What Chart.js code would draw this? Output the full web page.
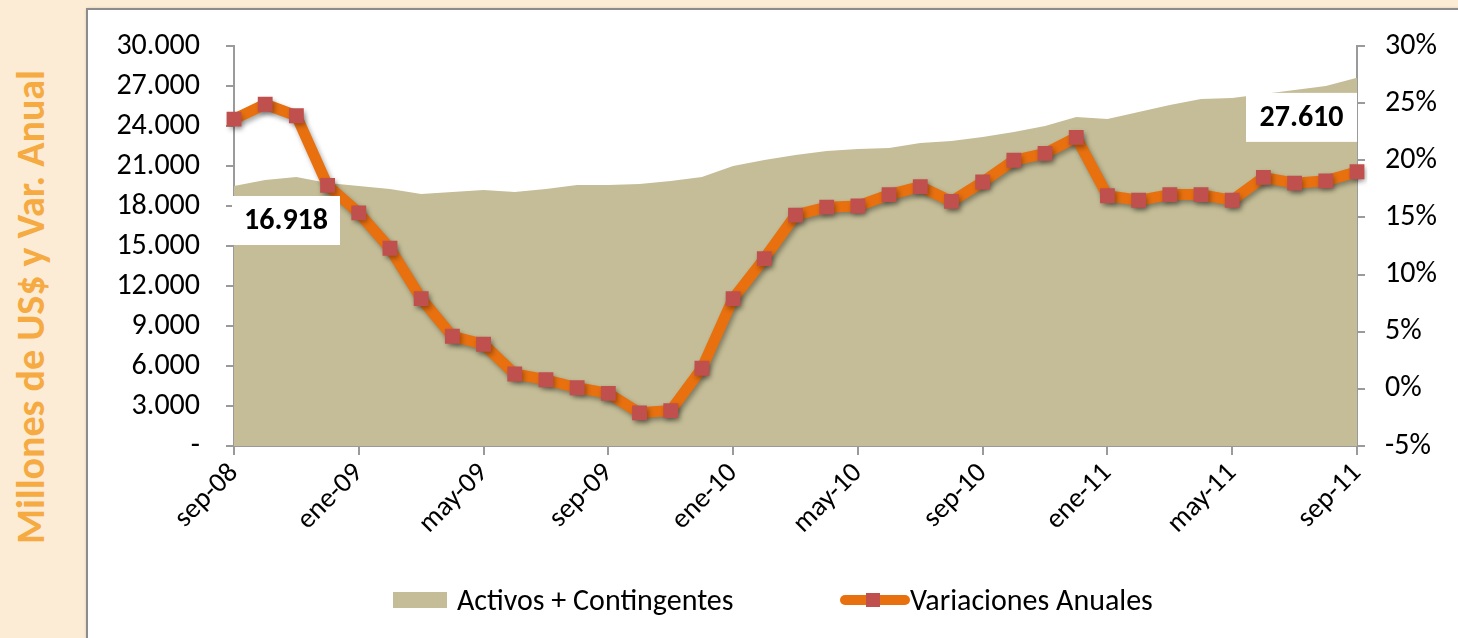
<!DOCTYPE html>
<html><head><meta charset="utf-8">
<script src="https://cdn.jsdelivr.net/npm/chart.js@4.4.0/dist/chart.umd.min.js"></script>
<style>
html,body{margin:0;padding:0;width:1458px;height:638px;overflow:hidden;background:#FDECD5;}
#box{position:absolute;left:86px;top:8px;width:1400px;height:660px;background:#fff;border:2px solid #8c8c8c;box-shadow:1px 1px 3px rgba(0,0,0,0.3);}
#ytitle{position:absolute;left:30px;top:307px;transform:translate(-50%,-50%) rotate(-90deg);white-space:nowrap;font:bold 40px Carlito,Lato,sans-serif;color:#F5AA42;}
canvas{position:absolute;left:0;top:0;}
.lg{position:absolute;font:30px Carlito,Lato,sans-serif;color:#000;line-height:34px;top:583px;white-space:nowrap;}
#sw1{position:absolute;left:393px;top:592px;width:54px;height:16px;background:#C4BD97;}
#sw2{position:absolute;left:840px;top:595px;width:70px;height:10px;background:#E8700F;border-radius:5px;}
#sw2m{position:absolute;left:866px;top:593px;width:14px;height:14px;background:#C0504D;}
</style></head>
<body>
<div id="box"></div>
<div id="ytitle">Millones de US$ y Var. Anual</div>
<canvas id="c" width="1458" height="638"></canvas>
<div id="sw1"></div><div class="lg" style="left:457px">Activos + Contingentes</div>
<div id="sw2"></div><div id="sw2m"></div><div class="lg" style="left:910px">Variaciones Anuales</div>
<script>
const categories = ['sep-08','oct-08','nov-08','dic-08','ene-09','feb-09','mar-09','abr-09','may-09','jun-09','jul-09','ago-09','sep-09','oct-09','nov-09','dic-09','ene-10','feb-10','mar-10','abr-10','may-10','jun-10','jul-10','ago-10','sep-10','oct-10','nov-10','dic-10','ene-11','feb-11','mar-11','abr-11','may-11','jun-11','jul-11','ago-11','sep-11'];
const activos = [19500,19950,20175,19725,19500,19275,18900,19050,19200,19050,19275,19575,19575,19650,19875,20175,21000,21450,21825,22125,22275,22350,22725,22875,23175,23550,24000,24675,24525,25050,25575,26025,26100,26400,26700,27000,27610];
const variaciones = [23.6,24.9,23.9,17.8,15.4,12.3,7.9,4.6,3.9,1.3,0.8,0.1,-0.4,-2.1,-1.9,1.8,7.9,11.4,15.2,15.9,16.0,17.0,17.7,16.4,18.1,20.0,20.6,22.0,16.9,16.5,17.0,17.0,16.5,18.5,18.0,18.2,19.0];
const leftTicks = {min:0, max:30000, step:3000};
const rightTicks = {min:-5, max:30, step:5};
const dataLabels = ['16.918','27.610'];

const FONT = 'Carlito, Lato, sans-serif';
const AX = '#9a9a9a';

const shadowPlugin = {
  id:'shadow',
  beforeDatasetDraw(chart,args){ if(args.index===1){ const c=chart.ctx; c.save(); c.shadowColor='rgba(0,0,0,0.35)'; c.shadowBlur=5; c.shadowOffsetX=2; c.shadowOffsetY=3; } },
  afterDatasetDraw(chart,args){ if(args.index===1) chart.ctx.restore(); }
};
const labelPlugin = {
  id:'dl',
  afterDatasetsDraw(chart){
    const ctx=chart.ctx, xs=chart.scales.x, ys=chart.scales.y;
    const n=activos.length-1;
    const boxes=[
      {x:xs.getPixelForValue(0)-2, y:ys.getPixelForValue(activos[0])+10, w:108, h:49, t:dataLabels[0]},
      {x:xs.getPixelForValue(n)-111, y:ys.getPixelForValue(activos[n])+15, w:111, h:49, t:dataLabels[1]}
    ];
    ctx.save();
    boxes.forEach(b=>{
      ctx.fillStyle='#fff'; ctx.fillRect(b.x,b.y,b.w,b.h);
      ctx.fillStyle='#000'; ctx.font='bold 30px '+FONT; ctx.textAlign='center'; ctx.textBaseline='middle';
      ctx.fillText(b.t,b.x+b.w/2,b.y+b.h/2+1);
    });
    ctx.restore();
  }
};

new Chart(document.getElementById('c'),{
  data:{
    labels:categories,
    datasets:[
      {type:'line', label:'Activos + Contingentes', data:activos, yAxisID:'y', fill:'origin', backgroundColor:'#C4BD97', borderWidth:0, pointRadius:0, tension:0, order:2},
      {type:'line', label:'Variaciones Anuales', data:variaciones, yAxisID:'y2', fill:false, borderColor:'#E8700F', borderWidth:11, borderJoinStyle:'round', pointStyle:'rect', pointRadius:10.5, pointBackgroundColor:'#C0504D', pointBorderWidth:0, tension:0, order:1}
    ]
  },
  options:{
    responsive:false, animation:false, devicePixelRatio:1,
    layout:{padding:{left:100,right:0,top:46,bottom:0}},
    plugins:{legend:{display:false}, tooltip:{enabled:false}},
    scales:{
      x:{type:'category', offset:false,
        grid:{drawOnChartArea:false, tickLength:9, lineWidth:2, color:(c)=> (c.index%4===0)?AX:'rgba(0,0,0,0)'},
        border:{color:AX,width:2},
        ticks:{autoSkip:false, maxRotation:45, minRotation:45, padding:2, color:'#000', font:{family:FONT,size:28},
          callback:(v,i)=> i%4===0?categories[i]:''},
        afterFit:(s)=>{s.height=192;}
      },
      y:{position:'left', min:leftTicks.min, max:leftTicks.max,
        grid:{drawOnChartArea:false, tickLength:8, lineWidth:2, color:AX},
        border:{color:AX,width:2},
        ticks:{stepSize:leftTicks.step, padding:26, color:'#000', font:{family:FONT,size:30},
          callback:(v)=> v===0?'-':v.toLocaleString('de-DE')},
        afterFit:(s)=>{s.width=134;}
      },
      y2:{position:'right', min:rightTicks.min, max:rightTicks.max,
        grid:{drawOnChartArea:false, tickLength:8, lineWidth:2, color:AX},
        border:{color:AX,width:2},
        ticks:{stepSize:rightTicks.step, padding:20, color:'#000', font:{family:FONT,size:30},
          callback:(v)=> v+'%'},
        afterFit:(s)=>{s.width=101;}
      }
    }
  },
  plugins:[shadowPlugin,labelPlugin]
});
</script>
</body></html>
